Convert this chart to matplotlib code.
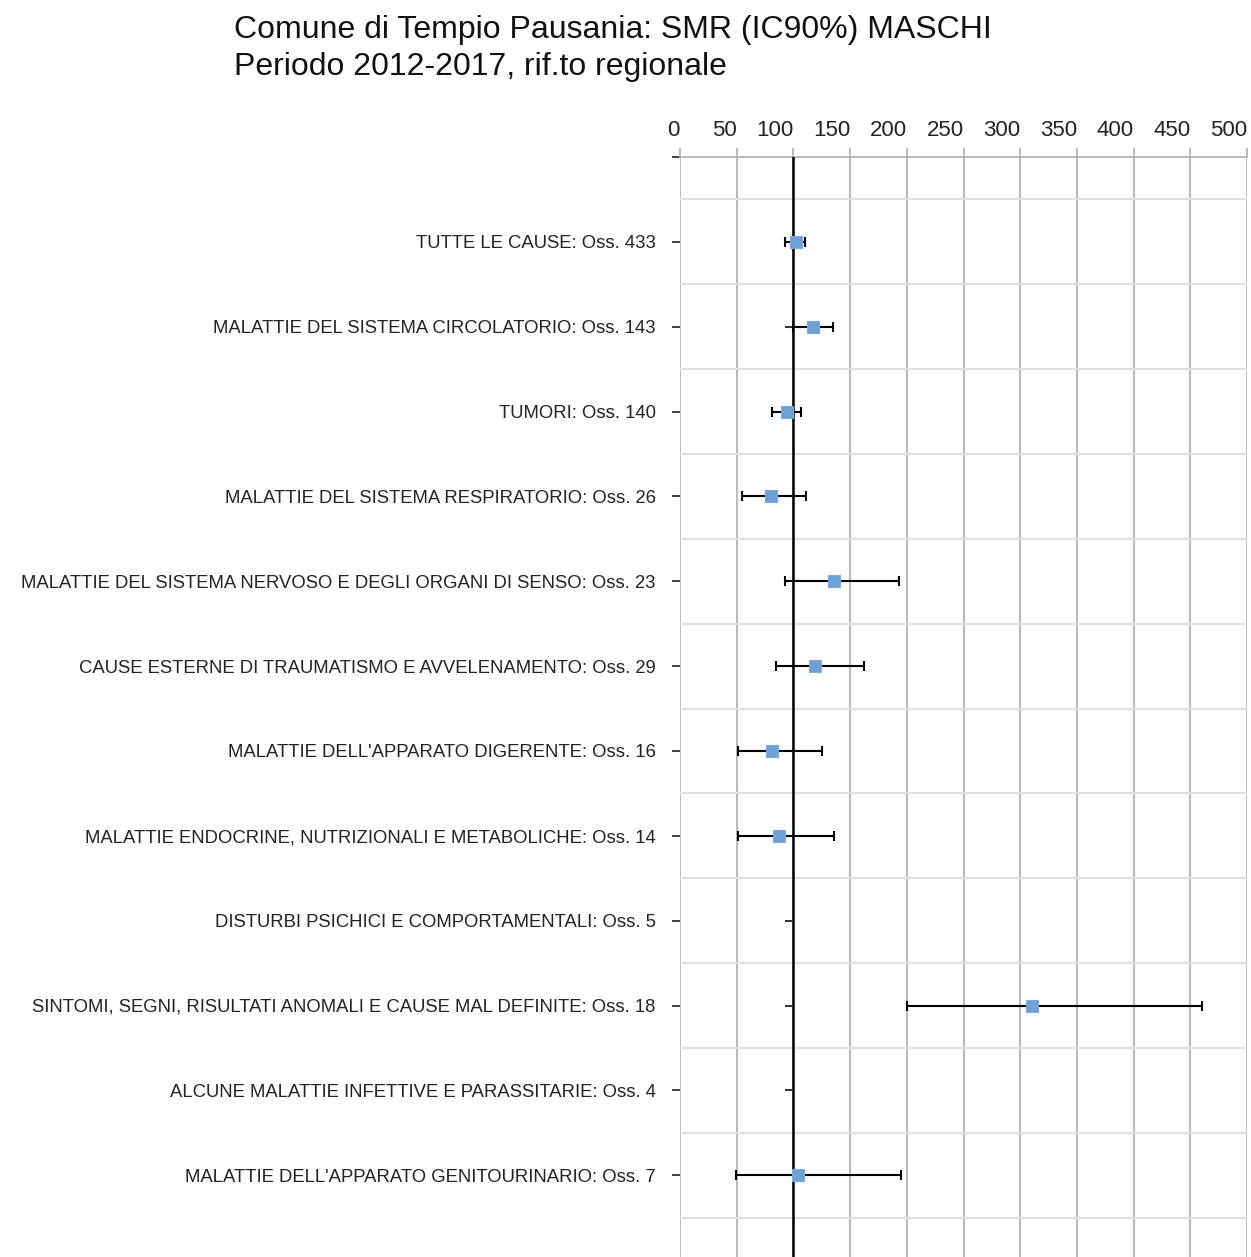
import numpy as np
import matplotlib
matplotlib.use("agg")
import matplotlib.pyplot as plt

# categories, top to bottom
labels = [
    "TUTTE LE CAUSE: Oss. 433",
    "MALATTIE DEL SISTEMA CIRCOLATORIO: Oss. 143",
    "TUMORI: Oss. 140",
    "MALATTIE DEL SISTEMA RESPIRATORIO: Oss. 26",
    "MALATTIE DEL SISTEMA NERVOSO E DEGLI ORGANI DI SENSO: Oss. 23",
    "CAUSE ESTERNE DI TRAUMATISMO E AVVELENAMENTO: Oss. 29",
    "MALATTIE DELL'APPARATO DIGERENTE: Oss. 16",
    "MALATTIE ENDOCRINE, NUTRIZIONALI E METABOLICHE: Oss. 14",
    "DISTURBI PSICHICI E COMPORTAMENTALI: Oss. 5",
    "SINTOMI, SEGNI, RISULTATI ANOMALI E CAUSE MAL DEFINITE: Oss. 18",
    "ALCUNE MALATTIE INFETTIVE E PARASSITARIE: Oss. 4",
    "MALATTIE DELL'APPARATO GENITOURINARIO: Oss. 7",
]
smr = [102, 117, 94, 80, 136, 119, 81, 87, np.nan, 310, np.nan, 104]
ci_low = [93, 100, 81, 55, 93, 85, 51, 51, np.nan, 200, np.nan, 49]
ci_high = [110, 135, 107, 111, 193, 162, 125, 136, np.nan, 460, np.nan, 195]
ref_value = 100
x_ticks = list(range(0, 501, 50))

FONT = ["Liberation Sans", "DejaVu Sans"]
plt.rcParams["font.family"] = FONT

smr = np.array(smr, dtype=float)
lo = np.array(ci_low, dtype=float)
hi = np.array(ci_high, dtype=float)
n = len(labels)
ypos = np.arange(n, 0, -1)  # 12 ... 1

W, H = 1251, 1257
fig = plt.figure(figsize=(W / 100, H / 100), dpi=100)
ax = fig.add_axes([680 / W, 0, 567 / W, 1100 / H])

# grid
for x in x_ticks:
    ax.axvline(x, color="#b3b3b3", lw=1.3, zorder=1)
for y in np.arange(0.5, n + 1, 1.0):
    ax.axhline(y, color="#e0e0e0", lw=1.5, zorder=1)

# reference line + small marks at each row
ax.axvline(ref_value, color="black", lw=1.8, zorder=3)
ax.plot([ref_value] * n, ypos, ls="none", marker=[(-1, 0), (0, 0)],
        ms=12, mew=1.3, color="#222222", zorder=3)

ok = ~np.isnan(smr)
ax.errorbar(smr[ok], ypos[ok], xerr=[smr[ok] - lo[ok], hi[ok] - smr[ok]],
            fmt="none", ecolor="black", elinewidth=1.5, capsize=3.8,
            capthick=1.5, zorder=4)
ax.plot(smr[ok], ypos[ok], ls="none", marker="s", ms=9, color="#6e9fd6",
        mec="#7eaade", mew=0.8, zorder=5)

ax.set_xlim(0, 500)
ax.set_ylim(13 - 1100 / 84.85, 13)

ax.xaxis.tick_top()
ax.set_xticks(x_ticks)
ax.set_xticklabels([str(v) for v in x_ticks], fontsize=16, color="#222222")
for t in ax.get_xticklabels():
    t.set_horizontalalignment("right")
ax.tick_params(axis="x", direction="out", length=6.5, width=1.3,
               color="#b3b3b3", pad=5)

ax.set_yticks(list(ypos) + [13])
ax.set_yticklabels(labels + [""], fontsize=13.3, color="#222222")
ax.tick_params(axis="y", direction="out", length=6, width=1.3,
               color="#333333", pad=11.5)

for s in ["left", "right", "bottom"]:
    ax.spines[s].set_visible(False)
ax.spines["top"].set_color("#b3b3b3")
ax.spines["top"].set_linewidth(1.3)

fig.text(234 / W, 1 - 38 / H, "Comune di Tempio Pausania: SMR (IC90%) MASCHI",
         fontsize=23, va="baseline", ha="left", color="#111111")
fig.text(234 / W, 1 - 75 / H, "Periodo 2012-2017, rif.to regionale",
         fontsize=23, va="baseline", ha="left", color="#111111")

fig.savefig("out.png", dpi=100)
